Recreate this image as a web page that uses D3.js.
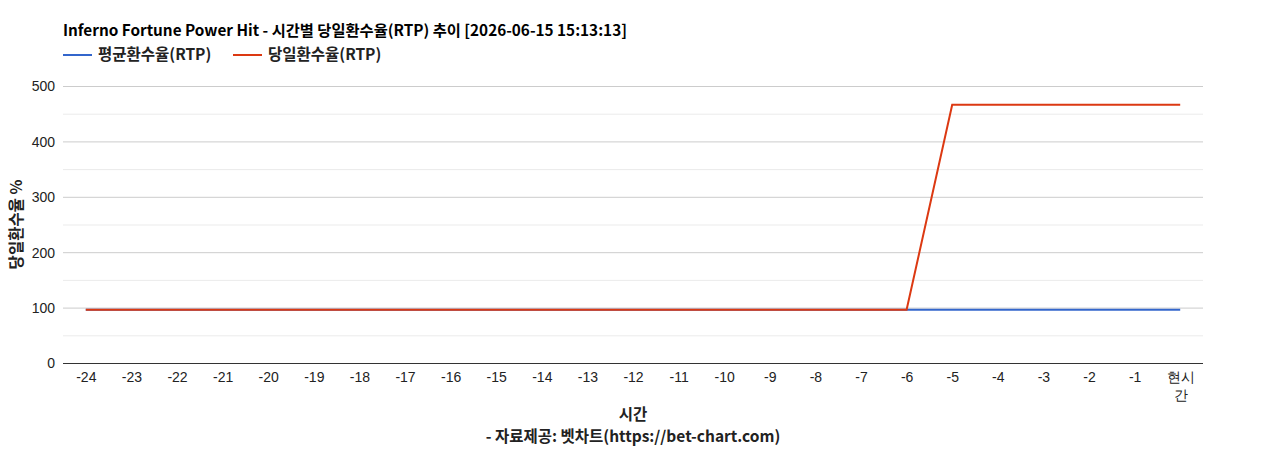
<!DOCTYPE html>
<html>
<head>
<meta charset="utf-8">
<script src="https://cdn.jsdelivr.net/npm/d3@7"></script>
<style>
  body { margin: 0; background: #fff; }
  svg { display: block; }
  .title, .legend text, .axis-title { font-family: "Noto Sans CJK KR", "Noto Sans", sans-serif; font-weight: bold; }
  .tick text { font-family: "Liberation Sans", Arial, sans-serif; font-size: 14px; fill: #222; }
</style>
</head>
<body>
<div id="chart"></div>
<script>
const hours = ['-24', '-23', '-22', '-21', '-20', '-19', '-18', '-17', '-16', '-15', '-14', '-13',
    '-12', '-11', '-10', '-9', '-8', '-7', '-6', '-5', '-4', '-3', '-2', '-1', '현시간'];
const avgRtp = [96, 96, 96, 96, 96, 96, 96, 96, 96, 96, 96, 96, 96, 96, 96, 96, 96, 96, 96, 96, 96, 96, 96, 96, 96];
const dayRtp = [96, 96, 96, 96, 96, 96, 96, 96, 96, 96, 96, 96, 96, 96, 96, 96, 96, 96, 96, 466, 466, 466, 466, 466, 466];
const yTicks = [0, 100, 200, 300, 400, 500];
const yMinor = [50, 150, 250, 350, 450];
const seriesNames = ['평균환수율(RTP)', '당일환수율(RTP)'];

const colors = ['#3366cc', '#dc3912'];
const W = 1268, H = 450;
const margin = {left: 63, right: 65, top: 86, bottom: 87};
const innerW = W - margin.left - margin.right;
const innerH = H - margin.top - margin.bottom;

const svg = d3.select('#chart').append('svg')
    .attr('width', W)
    .attr('height', H);

const x = d3.scalePoint()
    .domain(hours)
    .range([margin.left, margin.left + innerW])
    .padding(0.5);
const y = d3.scaleLinear()
    .domain([0, 500])
    .range([margin.top + innerH, margin.top]);

// minor + major gridlines
svg.append('g').selectAll('line')
    .data(yMinor)
    .join('line')
    .attr('x1', margin.left).attr('x2', margin.left + innerW)
    .attr('y1', d => y(d) + 0.5).attr('y2', d => y(d) + 0.5)
    .attr('stroke', '#ebebeb');

svg.append('g')
    .attr('transform', `translate(${margin.left}, 0)`)
    .call(d3.axisLeft(y).tickValues(yTicks).tickSize(-innerW).tickPadding(8))
    .call(g => g.select('.domain').remove())
    .call(g => g.selectAll('.tick line').attr('stroke', '#cccccc'))
    .call(g => g.selectAll('.tick text').attr('dy', '0.35em'));

// x axis
const xAxis = svg.append('g')
    .attr('transform', `translate(0, ${y(0)})`)
    .call(d3.axisBottom(x).tickSize(0).tickPadding(9))
    .call(g => g.select('.domain').attr('stroke', '#333').attr('d', `M${margin.left},0.5H${margin.left + innerW}`));

// wrap the non-numeric label (현시간 -> 현시 / 간)
xAxis.selectAll('.tick text').each(function(d) {
    if (!isNaN(+d)) return;
    const t = d3.select(this);
    t.text('');
    t.append('tspan').attr('x', 0).text(d.slice(0, 2));
    t.append('tspan').attr('x', 0).attr('dy', '1.3em').text(d.slice(2));
});

// lines
const line = d3.line()
    .x((d, i) => x(hours[i]))
    .y(d => y(d));

[avgRtp, dayRtp].forEach((vals, i) => {
    svg.append('path')
        .datum(vals)
        .attr('fill', 'none')
        .attr('stroke', colors[i])
        .attr('stroke-width', 2)
        .attr('d', line);
});

// title
svg.append('text')
    .attr('class', 'title')
    .attr('x', margin.left)
    .attr('y', 36)
    .style('font-size', '15.3px')
    .attr('fill', '#000')
    .text('Inferno Fortune Power Hit - 시간별 당일환수율(RTP) 추이 [2026-06-15 15:13:13]');

// legend
const legend = svg.append('g').attr('class', 'legend');
const legendX = [63, 233];
seriesNames.forEach((name, i) => {
    const g = legend.append('g').attr('transform', `translate(${legendX[i]}, 55)`);
    g.append('line')
        .attr('x1', 0).attr('x2', 29)
        .attr('stroke', colors[i])
        .attr('stroke-width', 2);
    g.append('text')
        .attr('x', 35)
        .attr('dy', '0.35em')
        .style('font-size', '15.5px')
        .attr('fill', '#222')
        .text(name);
});

// axis titles
svg.append('text')
    .attr('class', 'axis-title')
    .attr('transform', `translate(22, ${margin.top + innerH / 2}) rotate(-90)`)
    .attr('text-anchor', 'middle')
    .style('font-size', '15.5px')
    .attr('fill', '#222')
    .text('당일환수율 %');

svg.append('text')
    .attr('class', 'axis-title')
    .attr('x', margin.left + innerW / 2)
    .attr('y', 420)
    .attr('text-anchor', 'middle')
    .style('font-size', '15.5px')
    .attr('fill', '#222')
    .text('시간');

svg.append('text')
    .attr('class', 'axis-title')
    .attr('x', margin.left + innerW / 2)
    .attr('y', 442)
    .attr('text-anchor', 'middle')
    .style('font-size', '15.5px')
    .attr('fill', '#222')
    .text('- 자료제공: 벳차트(https://bet-chart.com)');
</script>
</body>
</html>
